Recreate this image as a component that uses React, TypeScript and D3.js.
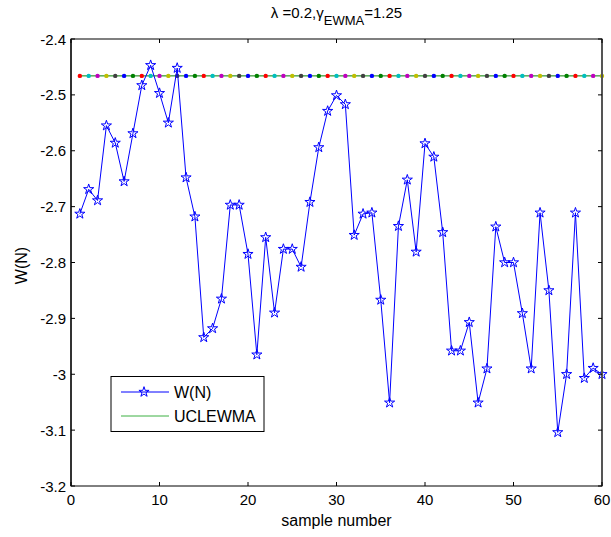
import React, { useEffect, useRef } from 'react';
import * as d3 from 'd3';

// W(N) values for samples 1..60
const sampleValues: number[] = [
  -2.713, -2.669, -2.689, -2.555, -2.586, -2.655, -2.569, -2.483, -2.447, -2.497,
  -2.550, -2.452, -2.648, -2.718, -2.934, -2.918, -2.865, -2.697, -2.697, -2.785,
  -2.965, -2.755, -2.890, -2.776, -2.776, -2.808, -2.692, -2.594, -2.529, -2.501,
  -2.517, -2.751, -2.713, -2.711, -2.867, -3.051, -2.735, -2.652, -2.781, -2.587,
  -2.611, -2.746, -2.958, -2.958, -2.907, -3.051, -2.990, -2.736, -2.800, -2.800,
  -2.891, -2.990, -2.711, -2.850, -3.104, -3.000, -2.711, -3.007, -2.989, -3.000,
];
const uclValue = -2.466;
const dotColors = ['#ff0000', '#00bfbf', '#bf00bf', '#bfbf00', '#404040', '#0000ff', '#008000'];
const xTicks = [0, 10, 20, 30, 40, 50, 60];
const yTicks = [-3.2, -3.1, -3, -2.9, -2.8, -2.7, -2.6, -2.5, -2.4];

const W = 611, H = 537;
const margin = { left: 71, right: 9, top: 39, bottom: 51 };

const App = () => {
  const svgRef = useRef<SVGSVGElement>(null);

  useEffect(() => {
    const svg = d3.select(svgRef.current);
    svg.selectAll('*').remove();

    const font = 'Liberation Sans, Arial, sans-serif';
    const x = d3.scaleLinear().domain([0, 60]).range([margin.left, W - margin.right]);
    const y = d3.scaleLinear().domain([-3.2, -2.4]).range([H - margin.bottom, margin.top]);

    const x0 = x(0), x1 = x(60), y0 = y(-3.2), y1 = y(-2.4);

    svg.append('rect').attr('x', 0).attr('y', 0).attr('width', W).attr('height', H).attr('fill', '#fff');

    const pts = sampleValues.map((v, i) => ({ n: i + 1, v }));

    // UCL line with coloured dots
    svg.append('line')
      .attr('x1', x(1)).attr('x2', x(60))
      .attr('y1', y(uclValue)).attr('y2', y(uclValue))
      .attr('stroke', '#008000').attr('stroke-width', 1);
    svg.selectAll('circle.ucl')
      .data(pts)
      .enter()
      .append('circle')
      .attr('class', 'ucl')
      .attr('cx', d => x(d.n))
      .attr('cy', y(uclValue))
      .attr('r', 2.2)
      .attr('fill', (d, i) => dotColors[i % dotColors.length]);

    // W(N) line
    const line = d3.line<{ n: number; v: number }>().x(d => x(d.n)).y(d => y(d.v));
    svg.append('path')
      .datum(pts)
      .attr('d', line)
      .attr('fill', 'none')
      .attr('stroke', '#0000ff')
      .attr('stroke-width', 1);

    const star = d3.symbol().type(d3.symbolStar).size(32);
    svg.selectAll('path.star')
      .data(pts)
      .enter()
      .append('path')
      .attr('class', 'star')
      .attr('d', star)
      .attr('transform', d => `translate(${x(d.n)},${y(d.v)})`)
      .attr('fill', 'none')
      .attr('stroke', '#0000ff')
      .attr('stroke-width', 1);

    // axes box
    svg.append('rect')
      .attr('x', x0).attr('y', y1)
      .attr('width', x1 - x0).attr('height', y0 - y1)
      .attr('fill', 'none').attr('stroke', '#000').attr('stroke-width', 1);
    svg.append('line').attr('x1', x0).attr('x2', x0).attr('y1', y1).attr('y2', y0)
      .attr('stroke', '#333').attr('stroke-width', 2);
    svg.append('line').attr('x1', x1).attr('x2', x1).attr('y1', y1).attr('y2', y0)
      .attr('stroke', '#555').attr('stroke-width', 2);

    const tl = 4;
    xTicks.forEach(t => {
      svg.append('line').attr('x1', x(t)).attr('x2', x(t)).attr('y1', y0).attr('y2', y0 - tl).attr('stroke', '#000');
      svg.append('line').attr('x1', x(t)).attr('x2', x(t)).attr('y1', y1).attr('y2', y1 + tl).attr('stroke', '#000');
      svg.append('text').attr('x', x(t)).attr('y', y0 + 19)
        .attr('text-anchor', 'middle').attr('font-family', font).attr('font-size', 15).text(t);
    });
    yTicks.forEach(t => {
      svg.append('line').attr('x1', x0).attr('x2', x0 + tl).attr('y1', y(t)).attr('y2', y(t)).attr('stroke', '#000');
      svg.append('line').attr('x1', x1).attr('x2', x1 - tl).attr('y1', y(t)).attr('y2', y(t)).attr('stroke', '#000');
      svg.append('text').attr('x', x0 - 5).attr('y', y(t) + 5.5)
        .attr('text-anchor', 'end').attr('font-family', font).attr('font-size', 15).text(String(t));
    });

    svg.append('text').attr('x', (x0 + x1) / 2).attr('y', 526)
      .attr('text-anchor', 'middle').attr('font-family', font).attr('font-size', 16).text('sample number');
    svg.append('text')
      .attr('transform', `translate(27,${(y0 + y1) / 2 + 3}) rotate(-90)`)
      .attr('text-anchor', 'middle').attr('font-family', font).attr('font-size', 16).text('W(N)');

    const title = svg.append('text').attr('x', (x0 + x1) / 2).attr('y', 18)
      .attr('text-anchor', 'middle').attr('font-family', font).attr('font-size', 15);
    title.append('tspan').text('λ =0.2,γ');
    title.append('tspan').attr('dy', 7).attr('font-size', 13).text('EWMA');
    title.append('tspan').attr('dy', -7).text('=1.25');

    // legend
    const lg = svg.append('g');
    lg.append('rect').attr('x', 111).attr('y', 376.5).attr('width', 153).attr('height', 55)
      .attr('fill', '#fff').attr('stroke', '#000').attr('stroke-width', 1);
    lg.append('line').attr('x1', 121).attr('x2', 169).attr('y1', 392).attr('y2', 392).attr('stroke', '#0000ff');
    lg.append('path').attr('d', star).attr('transform', 'translate(144,392)')
      .attr('fill', 'none').attr('stroke', '#0000ff');
    lg.append('text').attr('x', 174).attr('y', 398).attr('font-family', font).attr('font-size', 16).text('W(N)');
    lg.append('line').attr('x1', 121).attr('x2', 169).attr('y1', 416).attr('y2', 416).attr('stroke', '#3cb043').attr('stroke-width', 1);
    lg.append('text').attr('x', 174).attr('y', 422).attr('font-family', font).attr('font-size', 16).text('UCLEWMA');
  }, []);

  return <svg ref={svgRef} width={W} height={H} style={{ position: 'absolute', left: 0, top: 0 }}></svg>;
};

export default App;
